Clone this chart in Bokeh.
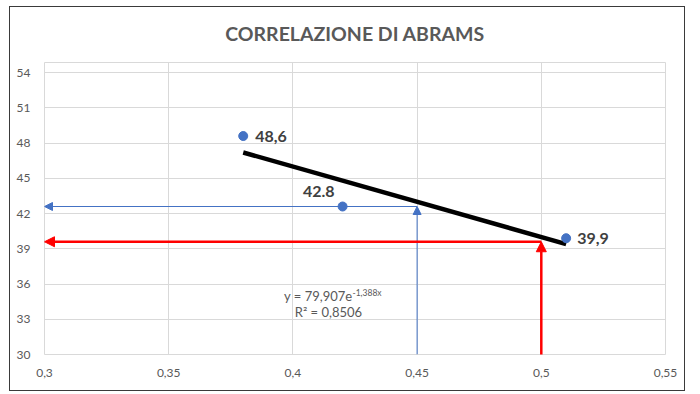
from bokeh.plotting import figure
from bokeh.models import ColumnDataSource, Arrow, NormalHead, FixedTicker, Label, Title
from bokeh.core.properties import value
from bokeh.embed import file_html
from bokeh.resources import INLINE

# ---- data ----
x_vals = [0.38, 0.42, 0.51]
y_vals = [48.6, 42.6, 39.9]
point_labels = ["48,6", "42.8", "39,9"]
trend_x = [0.38, 0.51]
trend_y = [47.2, 39.4]
blue_x, blue_y = 0.45, 42.6
red_x, red_y = 0.50, 39.6
x_ticks = [0.3, 0.35, 0.4, 0.45, 0.5, 0.55]
x_tick_labels = ["0,3", "0,35", "0,4", "0,45", "0,5", "0,55"]
y_ticks = [30, 33, 36, 39, 42, 45, 48, 51, 54]
title_text = "CORRELAZIONE DI ABRAMS"
eq_text = "y = 79,907e"
eq_sup = "-1,388x"
r2_text = "R² = 0,8506"

FONT = "Lato"
GRAY = "#595959"

p = figure(width=676, height=385, output_backend="svg", toolbar_location=None,
           x_range=(0.3, 0.55), y_range=(30, 54.86),
           min_border_left=34, min_border_right=21, min_border_top=55, min_border_bottom=38)
p.styles = {"border": "1.5px solid #3a3a3a", "box-sizing": "border-box",
            "margin-left": "9px", "margin-top": "6px"}

p.title.text = title_text
p.title.align = "center"
p.title.text_font = FONT
p.title.text_font_size = "19.5px"
p.title.text_color = GRAY
p.title.text_font_style = "bold"
# spacer between title and frame
p.add_layout(Title(text=" ", text_font_size="1px"), "above")

p.outline_line_color = "#d9d9d9"
p.xgrid.grid_line_color = "#d9d9d9"
p.ygrid.grid_line_color = "#d9d9d9"

p.xaxis.ticker = FixedTicker(ticks=x_ticks)
p.xaxis.major_label_overrides = {t: l for t, l in zip(x_ticks, x_tick_labels)}
p.yaxis.ticker = FixedTicker(ticks=y_ticks)
for ax in (p.xaxis, p.yaxis):
    ax.axis_line_color = None
    ax.major_tick_line_color = None
    ax.minor_tick_line_color = None
    ax.major_label_text_font = FONT
    ax.major_label_text_font_size = "12px"
    ax.major_label_text_color = GRAY
p.xaxis.major_label_standoff = 8
p.yaxis.major_label_standoff = 8

# arrows
p.add_layout(Arrow(end=NormalHead(size=8, fill_color="#4472C4", line_color="#4472C4"),
                   x_start=blue_x, y_start=blue_y, x_end=0.3, y_end=blue_y,
                   line_color="#4472C4", line_width=1))
p.add_layout(Arrow(end=NormalHead(size=8, fill_color="#4472C4", line_color="#4472C4"),
                   x_start=blue_x, y_start=30, x_end=blue_x, y_end=blue_y,
                   line_color="#4472C4", line_width=1))
p.add_layout(Arrow(end=NormalHead(size=10, fill_color="#FF0000", line_color="#FF0000"),
                   x_start=red_x, y_start=red_y, x_end=0.3, y_end=red_y,
                   line_color="#FF0000", line_width=2.5))
p.add_layout(Arrow(end=NormalHead(size=10, fill_color="#FF0000", line_color="#FF0000"),
                   x_start=red_x, y_start=29.7, x_end=red_x, y_end=red_y,
                   line_color="#FF0000", line_width=2.5))

# trendline
p.line(trend_x, trend_y, line_color="black", line_width=4.5)

# points
src = ColumnDataSource(dict(x=x_vals, y=y_vals, lab=point_labels,
                            xo=[12, -8, 11], yo=[0, -15, 0],
                            al=["left", "right", "left"]))
p.scatter("x", "y", source=src, size=9, color="#4472C4")
p.text("x", "y", text="lab", source=src, x_offset="xo", y_offset="yo",
       text_align="al", text_baseline="middle", text_font=value(FONT),
       text_font_style="bold", text_font_size="16px", text_color="#404040")

# equation
p.add_layout(Label(x=0.424, y=34.97, text=eq_text, text_align="right", text_baseline="middle",
                   text_font=FONT, text_font_size="13px", text_color=GRAY))
p.add_layout(Label(x=0.424, y=35.25, text=eq_sup, text_align="left", text_baseline="middle",
                   text_font=FONT, text_font_size="8.5px", text_color=GRAY))
p.add_layout(Label(x=0.4143, y=33.6, text=r2_text, text_align="center", text_baseline="middle",
                   text_font=FONT, text_font_size="13px", text_color=GRAY))

open("out.html", "w").write(file_html(p, INLINE))
